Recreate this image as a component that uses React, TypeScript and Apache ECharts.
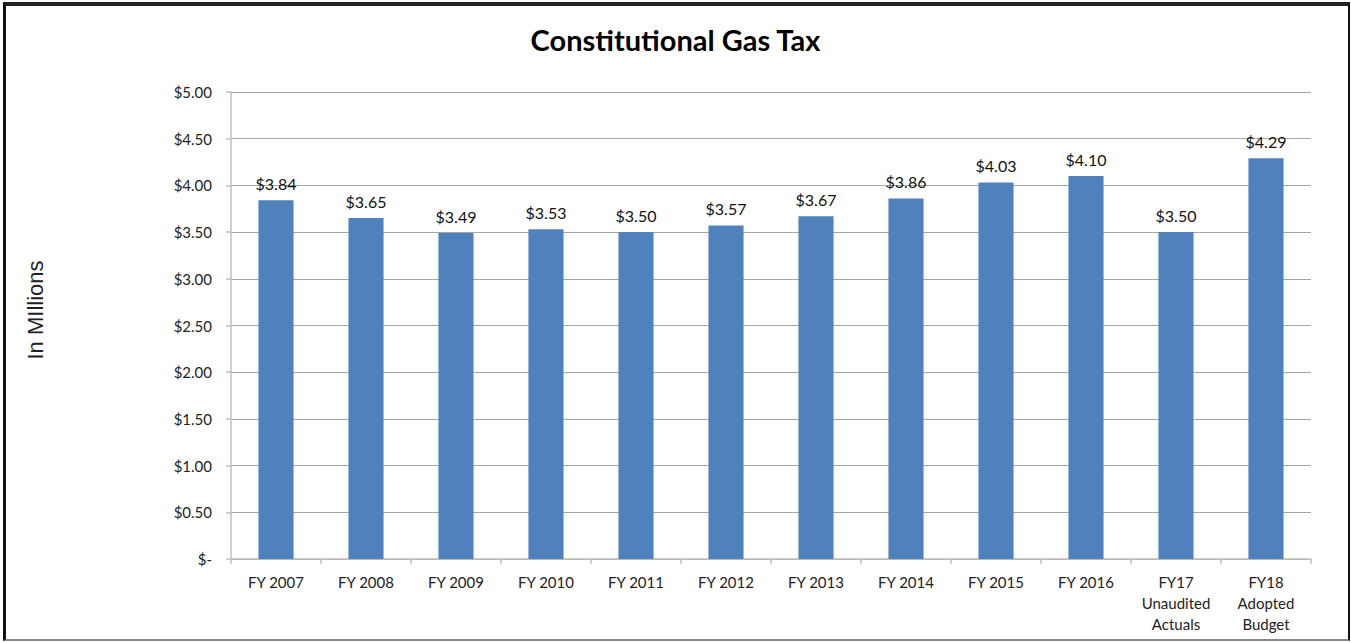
import React, { useEffect, useRef } from "react";
import * as echarts from "echarts";

const categories = [
  "FY 2007", "FY 2008", "FY 2009", "FY 2010", "FY 2011", "FY 2012",
  "FY 2013", "FY 2014", "FY 2015", "FY 2016",
  "FY17\nUnaudited\nActuals", "FY18\nAdopted\nBudget",
];
const values = [3.84, 3.65, 3.49, 3.53, 3.5, 3.57, 3.67, 3.86, 4.03, 4.1, 3.5, 4.29];
const yMin = 0;
const yMax = 5;
const yInterval = 0.5;
const titleText = "Constitutional Gas Tax";
const yAxisTitle = "In MIllions";

export default function App() {
  const ref = useRef<HTMLDivElement>(null);
  useEffect(() => {
    if (!ref.current) return;
    const chart = echarts.init(ref.current, null, { renderer: "svg" });
    const font = "Lato, 'Open Sans', sans-serif";
    chart.setOption({
      animation: false,
      backgroundColor: "#ffffff",
      title: {
        text: titleText,
        left: "center",
        top: 20,
        textStyle: { fontFamily: font, fontSize: 29, fontWeight: "bold", color: "#000" },
      },
      graphic: [
        {
          type: "text",
          x: 35,
          y: 310,
          rotation: Math.PI / 2,
          style: {
            text: yAxisTitle,
            fontFamily: "'Liberation Sans', Arial, sans-serif",
            fontSize: 22,
            fill: "#222",
            align: "center",
            verticalAlign: "middle",
          },
        },
      ],
      grid: { left: 231, right: 40, top: 92, bottom: 83 },
      xAxis: {
        type: "category",
        data: categories,
        axisLine: { lineStyle: { color: "#BFBFBF", width: 1.5 } },
        axisTick: { show: true, length: 5, lineStyle: { color: "#BFBFBF", width: 1.5 } },
        axisLabel: {
          fontFamily: font,
          fontSize: 15,
          color: "#222",
          margin: 12,
          lineHeight: 21,
          interval: 0,
        },
      },
      yAxis: {
        type: "value",
        min: yMin,
        max: yMax,
        interval: yInterval,
        axisLine: { show: true, lineStyle: { color: "#BFBFBF", width: 1.5 } },
        axisTick: { show: true, length: 5, lineStyle: { color: "#BFBFBF", width: 1.5 } },
        splitLine: { lineStyle: { color: "#A6A6A6", width: 1 } },
        axisLabel: {
          fontFamily: font,
          fontSize: 15,
          color: "#222",
          margin: 19,
          formatter: (v: number) => (v === 0 ? "$-" : "$" + v.toFixed(2)),
        },
      },
      series: [
        {
          type: "bar",
          data: values,
          barWidth: "39%",
          itemStyle: { color: "#4F81BD" },
          label: {
            show: true,
            position: "top",
            distance: 9,
            fontFamily: font,
            fontSize: 16,
            color: "#111",
            formatter: (p: any) => "$" + Number(p.value).toFixed(2),
          },
        },
      ],
    });
    return () => chart.dispose();
  }, []);
  return (
    <div style={{ position: "fixed", left: 0, top: 0, width: 1351, height: 642, background: "#fff" }}>
      <div ref={ref} style={{ position: "absolute", left: 0, top: 0, width: 1351, height: 642 }} />
      <div
        style={{
          position: "absolute",
          left: 3,
          top: 2,
          width: 1351 - 3 - 1,
          height: 642 - 2 - 1,
          boxSizing: "border-box",
          borderLeft: "3px solid #111",
          borderTop: "4px solid #222",
          borderRight: "2px solid #111",
          borderBottom: "2px solid #888",
          pointerEvents: "none",
        }}
      />
    </div>
  );
}
